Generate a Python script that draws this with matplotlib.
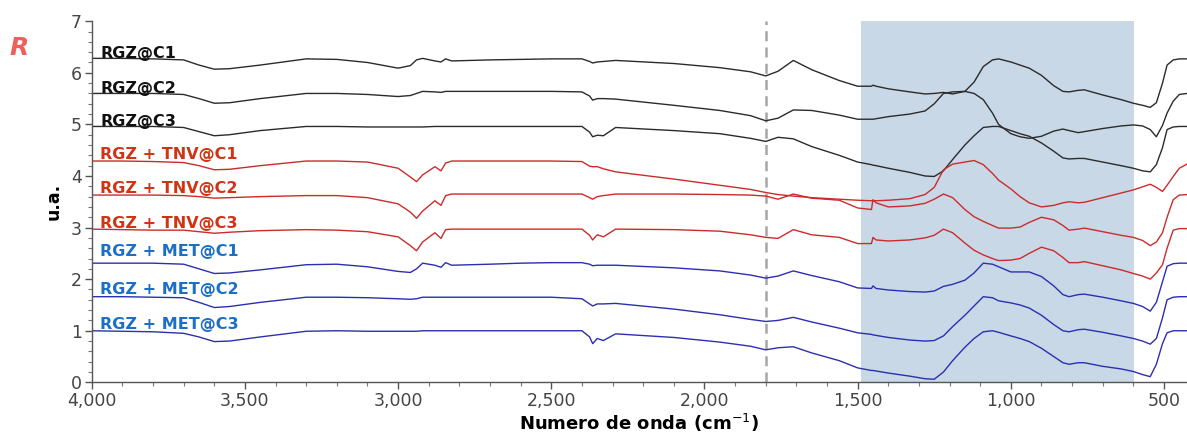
import numpy as np
import matplotlib.pyplot as plt
from matplotlib.ticker import MultipleLocator, FuncFormatter

# wavenumber grid (cm-1)
wavenumber = [4000, 3900, 3800, 3700, 3650, 3600, 3550, 3450, 3300, 3200,
              3100, 3000, 2960, 2940, 2920, 2880, 2860, 2845, 2825, 2700,
              2600, 2500, 2400, 2375, 2365, 2350, 2330, 2290, 2100, 1950,
              1850, 1800, 1760, 1710, 1650, 1560, 1500, 1455, 1450, 1440,
              1400, 1330, 1280, 1250, 1220, 1190, 1150, 1120, 1090, 1060,
              1040, 1000, 970, 940, 900, 860, 830, 810, 780, 760,
              700, 640, 600, 570, 545, 525, 505, 490, 470, 450, 425]

rgz_c1 = [6.28, 6.28, 6.27, 6.25, 6.15, 6.07, 6.08, 6.15, 6.27, 6.26,
          6.20, 6.09, 6.14, 6.25, 6.28, 6.23, 6.21, 6.27, 6.23, 6.25,
          6.26, 6.27, 6.27, 6.22, 6.19, 6.21, 6.22, 6.24, 6.18, 6.10,
          6.02, 5.94, 6.03, 6.24, 6.06, 5.85, 5.74, 5.74, 5.76, 5.74,
          5.69, 5.63, 5.59, 5.60, 5.62, 5.59, 5.64, 5.82, 6.12, 6.25,
          6.27, 6.21, 6.15, 6.09, 5.95, 5.75, 5.64, 5.63, 5.66, 5.67,
          5.57, 5.48, 5.41, 5.37, 5.33, 5.42, 5.80, 6.15, 6.25, 6.27, 6.27]

rgz_c2 = [5.60, 5.60, 5.60, 5.58, 5.50, 5.41, 5.42, 5.50, 5.60, 5.60,
          5.58, 5.54, 5.56, 5.60, 5.64, 5.63, 5.62, 5.64, 5.64, 5.64,
          5.64, 5.64, 5.63, 5.55, 5.47, 5.50, 5.50, 5.49, 5.37, 5.27,
          5.17, 5.07, 5.12, 5.28, 5.27, 5.18, 5.10, 5.10, 5.10, 5.11,
          5.15, 5.20, 5.26, 5.40, 5.60, 5.63, 5.64, 5.60, 5.48, 5.22,
          5.00, 4.82, 4.76, 4.73, 4.77, 4.87, 4.91, 4.88, 4.84, 4.86,
          4.92, 4.97, 4.99, 4.97, 4.90, 4.76, 4.98, 5.22, 5.45, 5.58, 5.60]

rgz_c3 = [4.96, 4.96, 4.96, 4.94, 4.86, 4.78, 4.80, 4.88, 4.96, 4.96,
          4.95, 4.95, 4.95, 4.95, 4.95, 4.96, 4.96, 4.96, 4.96, 4.96,
          4.96, 4.96, 4.96, 4.85, 4.76, 4.79, 4.78, 4.94, 4.88, 4.82,
          4.73, 4.67, 4.75, 4.72, 4.57, 4.40, 4.27, 4.22, 4.21, 4.20,
          4.15, 4.07, 4.00, 3.99, 4.10, 4.32, 4.60, 4.78, 4.94, 4.96,
          4.96, 4.88, 4.82, 4.77, 4.64, 4.48, 4.35, 4.33, 4.34, 4.34,
          4.27, 4.20, 4.15, 4.10, 4.08, 4.22, 4.55, 4.90, 4.95, 4.96, 4.96]

tnv_c1 = [4.29, 4.29, 4.28, 4.26, 4.20, 4.12, 4.13, 4.20, 4.29, 4.29,
          4.27, 4.15, 3.98, 3.89, 4.02, 4.18, 4.10, 4.25, 4.29, 4.29,
          4.29, 4.29, 4.28, 4.19, 4.18, 4.18, 4.14, 4.08, 3.94, 3.82,
          3.74, 3.68, 3.64, 3.61, 3.58, 3.55, 3.53, 3.52, 3.52, 3.52,
          3.53, 3.56, 3.64, 3.78, 4.12, 4.23, 4.27, 4.30, 4.22, 4.05,
          3.92, 3.75, 3.60, 3.48, 3.40, 3.43, 3.48, 3.50, 3.48, 3.49,
          3.58, 3.67, 3.73, 3.79, 3.84, 3.78, 3.70, 3.82, 3.99, 4.15, 4.23]

tnv_c2 = [3.63, 3.63, 3.63, 3.62, 3.60, 3.57, 3.58, 3.60, 3.62, 3.62,
          3.58, 3.46, 3.30, 3.18, 3.32, 3.52, 3.43, 3.62, 3.65, 3.65,
          3.65, 3.65, 3.65, 3.58, 3.55, 3.60, 3.62, 3.65, 3.65, 3.64,
          3.63, 3.61, 3.55, 3.65, 3.57, 3.53, 3.38, 3.35, 3.54, 3.48,
          3.40, 3.42, 3.47, 3.55, 3.65, 3.58, 3.35, 3.21, 3.12, 3.04,
          2.99, 2.99, 3.01, 3.10, 3.20, 3.15, 3.04, 2.95, 2.97, 2.99,
          2.92, 2.85, 2.81, 2.75, 2.65, 2.72, 2.90, 3.20, 3.54, 3.63, 3.64]

tnv_c3 = [2.97, 2.96, 2.95, 2.95, 2.92, 2.89, 2.91, 2.94, 2.96, 2.95,
          2.92, 2.82, 2.65, 2.55, 2.72, 2.90, 2.79, 2.96, 2.97, 2.97,
          2.97, 2.97, 2.97, 2.85, 2.76, 2.86, 2.82, 2.97, 2.96, 2.93,
          2.86, 2.81, 2.79, 2.96, 2.86, 2.81, 2.69, 2.69, 2.81, 2.76,
          2.74, 2.76, 2.80, 2.85, 2.97, 2.90, 2.70, 2.56, 2.47, 2.40,
          2.36, 2.37, 2.40, 2.50, 2.62, 2.55, 2.42, 2.32, 2.32, 2.34,
          2.26, 2.18, 2.11, 2.06, 2.00, 2.12, 2.28, 2.60, 2.95, 2.98, 2.98]

met_c1 = [2.31, 2.31, 2.31, 2.29, 2.20, 2.11, 2.12, 2.18, 2.28, 2.29,
          2.24, 2.15, 2.13, 2.20, 2.31, 2.27, 2.23, 2.32, 2.27, 2.29,
          2.31, 2.32, 2.32, 2.29, 2.26, 2.27, 2.27, 2.27, 2.22, 2.16,
          2.08, 2.02, 2.06, 2.16, 2.07, 1.95, 1.83, 1.82, 1.87, 1.82,
          1.79, 1.76, 1.75, 1.77, 1.86, 1.90, 1.98, 2.12, 2.31, 2.29,
          2.24, 2.14, 2.14, 2.14, 2.05, 1.87, 1.70, 1.66, 1.70, 1.71,
          1.65, 1.58, 1.53, 1.47, 1.38, 1.55, 1.95, 2.25, 2.30, 2.31, 2.31]

met_c2 = [1.66, 1.66, 1.65, 1.64, 1.55, 1.45, 1.47, 1.55, 1.65, 1.65,
          1.64, 1.62, 1.61, 1.62, 1.65, 1.65, 1.65, 1.65, 1.65, 1.65,
          1.65, 1.65, 1.62, 1.52, 1.48, 1.52, 1.52, 1.53, 1.42, 1.31,
          1.22, 1.18, 1.20, 1.26, 1.17, 1.05, 0.96, 0.93, 0.92, 0.91,
          0.87, 0.82, 0.80, 0.81, 0.90, 1.08, 1.30, 1.48, 1.66, 1.64,
          1.58, 1.54, 1.50, 1.44, 1.30, 1.12, 1.00, 0.98, 1.02, 1.03,
          0.97, 0.90, 0.85, 0.80, 0.74, 0.85, 1.25, 1.60, 1.65, 1.66, 1.66]

met_c3 = [1.00, 0.99, 0.98, 0.95, 0.88, 0.79, 0.80, 0.88, 0.99, 1.00,
          0.99, 0.99, 0.99, 0.99, 1.00, 1.00, 1.00, 1.00, 1.00, 1.00,
          1.00, 1.00, 1.00, 0.88, 0.75, 0.85, 0.81, 0.94, 0.87, 0.78,
          0.70, 0.63, 0.67, 0.69, 0.57, 0.42, 0.28, 0.23, 0.23, 0.22,
          0.18, 0.12, 0.07, 0.06, 0.20, 0.42, 0.68, 0.85, 0.98, 1.00,
          0.97, 0.90, 0.85, 0.79, 0.66, 0.50, 0.38, 0.35, 0.38, 0.38,
          0.31, 0.26, 0.21, 0.15, 0.11, 0.35, 0.75, 0.96, 1.00, 1.00, 1.00]

labels = ["RGZ@C1", "RGZ@C2", "RGZ@C3",
          "RGZ + TNV@C1", "RGZ + TNV@C2", "RGZ + TNV@C3",
          "RGZ + MET@C1", "RGZ + MET@C2", "RGZ + MET@C3"]
series = [rgz_c1, rgz_c2, rgz_c3, tnv_c1, tnv_c2, tnv_c3, met_c1, met_c2, met_c3]

line_colors = ["#2b2b2b"] * 3 + ["#cc2b2b"] * 3 + ["#2b2fb0"] * 3
text_colors = ["#111111"] * 3 + ["#cf3414"] * 3 + ["#1c6fc6"] * 3
label_offset = [0.09, 0.10, 0.09, 0.12, 0.13, 0.11, 0.22, 0.14, 0.13]

fig = plt.figure(figsize=(11.87, 4.33), dpi=100)
ax = fig.add_axes([0.0773, 0.117, 0.9227, 0.834])

# shaded band and reference line
ax.axvspan(1490, 597, color="#c8d8e7", zorder=0, lw=0)
ax.axvline(1800, color="#a6a6a6", lw=1.8, ls=(0, (4, 2.5)), zorder=1)

for ys, c in zip(series, line_colors):
    ax.plot(wavenumber, ys, color=c, lw=1.0, zorder=2)

for lab, ys, tc, off in zip(labels, series, text_colors, label_offset):
    ax.text(3972, ys[0] + off, lab, color=tc, fontsize=11.5, fontweight="bold",
            va="center", ha="left", family="DejaVu Sans", zorder=3)

ax.set_xlim(4000, 425)
ax.set_ylim(0, 7)
ax.xaxis.set_major_locator(MultipleLocator(500))
ax.xaxis.set_minor_locator(MultipleLocator(100))
ax.yaxis.set_major_locator(MultipleLocator(1))
ax.yaxis.set_minor_locator(MultipleLocator(0.2))
ax.xaxis.set_major_formatter(FuncFormatter(lambda v, p: f"{int(v):,}"))

for s in ["top", "right"]:
    ax.spines[s].set_visible(False)
for s in ["left", "bottom"]:
    ax.spines[s].set_color("#555555")
    ax.spines[s].set_linewidth(1.0)

ax.tick_params(which="major", length=5, width=1, color="#555555",
               labelsize=12.5, labelcolor="#454545", pad=2)
ax.tick_params(which="minor", length=3, width=0.8, color="#777777")
for t in ax.get_xticklabels() + ax.get_yticklabels():
    t.set_family("DejaVu Sans")

ax.set_xlabel("Numero de onda (cm$^{-1}$)", fontsize=13, fontweight="bold")
ax.xaxis.set_label_coords(0.5, -0.082)
ax.set_ylabel("u.a.", fontsize=12.5, fontweight="bold", labelpad=6)

fig.text(0.008, 0.873, "R", color="#f0605a", fontsize=18, fontweight="bold",
         style="italic")

fig.savefig("out.png", dpi=100)
